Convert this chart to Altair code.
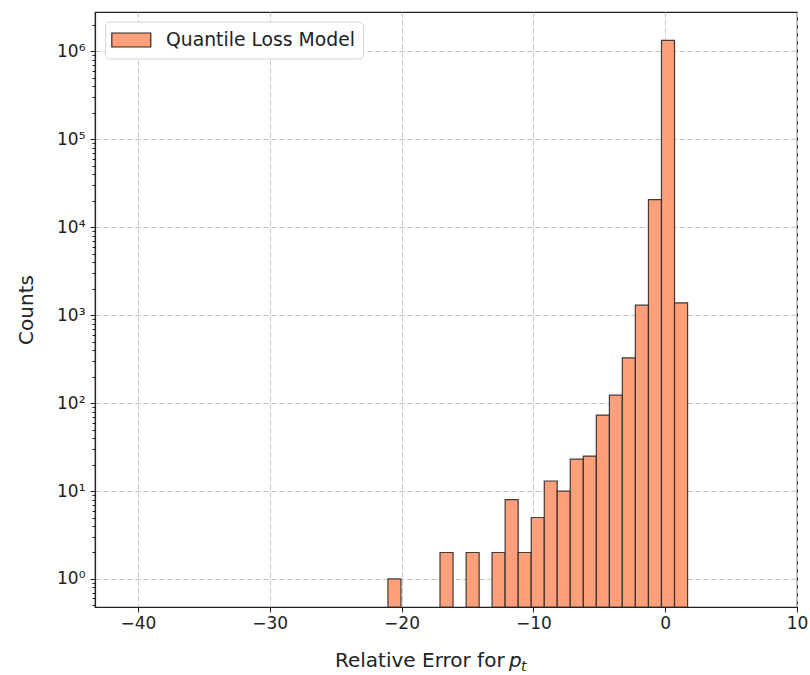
import altair as alt
import pandas as pd

# Histogram of relative error (23 equal-width bins), counts on a log scale
bin_edges = [-21.03, -20.04, -19.05, -18.07, -17.08, -16.09, -15.10, -14.11,
             -13.13, -12.14, -11.15, -10.16, -9.17, -8.19, -7.20, -6.21,
             -5.22, -4.23, -3.25, -2.26, -1.27, -0.28, 0.71, 1.70]
bin_counts = [1, 0, 0, 0, 2, 0, 2, 0, 2, 8, 2, 5, 13, 10, 23, 25,
              73, 123, 327, 1300, 20600, 1330000, 1380]
series_name = "Quantile Loss Model"

x_ticks = [-40, -30, -20, -10, 0, 10]
decade_values = [1, 10, 100, 1000, 10000, 100000, 1000000]
decade_labels = ["10⁰", "10¹", "10²", "10³", "10⁴", "10⁵", "10⁶"]

W, H = 702, 595
FONT = "DejaVu Sans"

df = pd.DataFrame({
    "left": bin_edges[:-1],
    "right": bin_edges[1:],
    "count": bin_counts,
    "series": series_name,
})
df = df[df["count"] > 0]

# minor ticks of the log axis (2..9 x each decade inside the domain)
y_lo, y_hi = 0.48, 2.8e6
minor_ticks = [m * 10.0 ** e for e in range(-1, 7) for m in range(2, 10)
               if y_lo <= m * 10.0 ** e <= y_hi]
y_tick_values = sorted(decade_values + minor_ticks)

label_expr = "''"
for v, lab in zip(reversed(decade_values), reversed(decade_labels)):
    label_expr = f"datum.value == {v} ? '{lab}' : ({label_expr})"
is_major = "indexof([" + ",".join(str(v) for v in decade_values) + "], datum.value) >= 0"

grid_dash = [5, 3]
grid_color = "#c4c4c4"

# wide rectangular legend patch, shifted right of the symbol centre
patch_path = "M-1.2,-0.72L2.8,-0.72L2.8,0.72L-1.2,0.72Z"

bars = alt.Chart(df).mark_bar(
    stroke="#2a2a2a", strokeWidth=1.2, strokeOpacity=0.9, fillOpacity=1
).encode(
    x=alt.X("left:Q",
            scale=alt.Scale(domain=[-43.25, 10], nice=False, zero=False),
            axis=alt.Axis(values=x_ticks, format="d", title=None,
                          labelFont=FONT, labelFontSize=17, labelColor="#222222",
                          labelFlush=False, labelPadding=3,
                          tickSize=5, tickColor="#222222", tickWidth=1,
                          domainColor="#222222", domainWidth=1.2,
                          grid=True, gridColor=grid_color, gridDash=grid_dash,
                          gridWidth=1)),
    x2="right:Q",
    y=alt.Y("count:Q",
            scale=alt.Scale(type="log", domain=[y_lo, y_hi], nice=False),
            axis=alt.Axis(values=y_tick_values, labelExpr=label_expr,
                          labelOverlap=False, labelFont=FONT, labelFontSize=17,
                          labelColor="#222222", labelPadding=5,
                          tickSize={"condition": {"test": is_major, "value": 5}, "value": 3},
                          tickColor="#222222", tickWidth=1,
                          domainColor="#222222", domainWidth=1.2,
                          grid=True, gridColor=grid_color, gridDash=grid_dash,
                          gridWidth=1,
                          gridOpacity={"condition": {"test": is_major, "value": 1}, "value": 0},
                          title="Counts", titleFont=FONT, titleFontSize=20,
                          titleFontWeight="normal", titleColor="#222222",
                          titleX=-63, titleY=H / 2, titleAngle=270,
                          titleBaseline="alphabetic", titleAlign="center")),
    y2=alt.value(H),
    color=alt.Color("series:N",
                    scale=alt.Scale(domain=[series_name], range=["#FFA07A"]),
                    legend=alt.Legend(
                        title=None, orient="none", legendX=10, legendY=9.5,
                        padding=8, fillColor="white", strokeColor="#d4d4d4",
                        cornerRadius=4,
                        symbolType=patch_path,
                        symbolSize=380, symbolStrokeColor="#2a2a2a",
                        symbolStrokeWidth=1.2, symbolOpacity=1,
                        labelFont=FONT, labelFontSize=18.8, labelColor="#222222",
                        labelLimit=400, labelOffset=32)),
)

# x-axis title with italic p and subscript t
title_main = alt.Chart(pd.DataFrame({"t": ["Relative Error for"]})).mark_text(
    font=FONT, fontSize=20, align="left", baseline="alphabetic", color="#222222"
).encode(x=alt.value(240), y=alt.value(655), text="t:N")

title_p = alt.Chart(pd.DataFrame({"t": ["p"]})).mark_text(
    font=FONT, fontSize=20, fontStyle="italic", align="left",
    baseline="alphabetic", color="#222222"
).encode(x=alt.value(414), y=alt.value(655), text="t:N")

title_t = alt.Chart(pd.DataFrame({"t": ["t"]})).mark_text(
    font=FONT, fontSize=14, fontStyle="italic", align="left",
    baseline="alphabetic", color="#222222"
).encode(x=alt.value(426), y=alt.value(659), text="t:N")

chart = alt.layer(bars, title_main, title_p, title_t).properties(
    width=W, height=H,
    autosize="none",
    padding={"left": 95, "top": 12, "right": 13, "bottom": 68},
    background="white",
).configure_view(stroke="#222222", strokeWidth=1.2)

chart.save("out.html", embed_options={"renderer": "svg", "actions": False})
